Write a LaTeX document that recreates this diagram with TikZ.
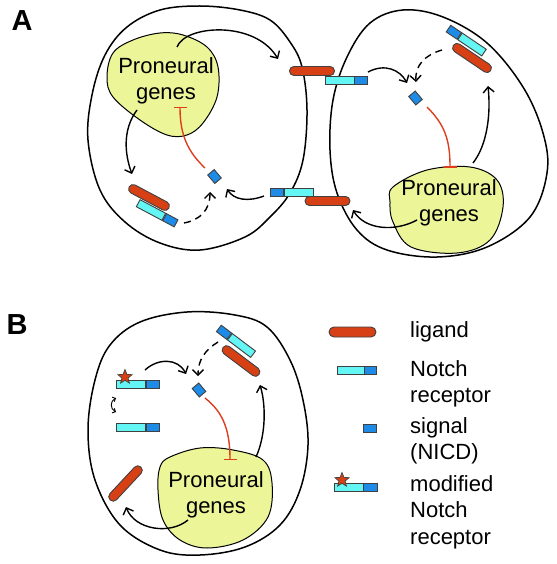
\documentclass[tikz,border=0pt]{standalone}
\usepackage{fontspec}
\setmainfont{Liberation Sans}
\usetikzlibrary{arrows.meta,shapes.geometric}
\definecolor{lig}{RGB}{214,64,20}
\definecolor{cyn}{RGB}{100,245,245}
\definecolor{blu}{RGB}{30,140,230}
\definecolor{blobc}{RGB}{236,245,152}
\definecolor{inh}{RGB}{222,62,30}
\begin{document}
\begin{tikzpicture}[x=1pt,y=-1pt,
  cell/.style={draw=black,line width=1.5pt},
  blobst/.style={draw=black,fill=blobc,line width=1pt},
  ligand/.style={draw=black!75,fill=lig,rounded corners=4.4pt,minimum width=45pt,minimum height=9pt,inner sep=0pt,line width=0.9pt},
  cyanbox/.style={draw=black!75,fill=cyn,minimum width=29pt,minimum height=8pt,inner sep=0pt,line width=0.9pt},
  bluebox/.style={draw=black!75,fill=blu,minimum width=13pt,minimum height=8pt,inner sep=0pt,line width=0.9pt},
  nicd/.style={draw=black!75,fill=blu,minimum width=11pt,minimum height=8.5pt,inner sep=0pt,line width=0.9pt},
  starst/.style={star,star points=5,star point ratio=2.3,draw=black!75,fill=lig,minimum size=15pt,inner sep=0pt,line width=0.7pt},
  arr/.style={draw=black,line width=1.4pt,-{Straight Barb[length=5.5pt,width=11pt]}},
  darr/.style={arr,dash pattern=on 7pt off 5pt},
  inhib/.style={draw=inh,line width=1.4pt,-{Bar[width=13pt,line width=1.5pt]}},
  txt/.style={font=\fontsize{22}{26.5}\selectfont,align=center,inner sep=0pt},
  ltxt/.style={font=\fontsize{22}{26.5}\selectfont,align=left,anchor=west,inner sep=0pt},
  panel/.style={font=\fontsize{29}{30}\selectfont\bfseries,inner sep=0pt}
]
\useasboundingbox (0,0) rectangle (556,564);

% ---------- Panel A ----------
\node[panel] (labA) at (22,21) {A};

% cells
\draw[cell] plot[smooth cycle,tension=0.6] coordinates {(127,27) (160,10) (200,6) (240,10) (270,20) (290,42) (302,67) (307,110) (303,160) (290,193) (270,217) (245,237) (200,250) (160,243) (125,222) (100,190) (88,140) (92,95) (105,55)};
\draw[cell] plot[smooth cycle,tension=0.6] coordinates {(370,23) (403,10) (443,17) (487,43) (523,87) (543,133) (547,173) (530,217) (487,247) (437,257) (387,250) (357,230) (337,193) (330,150) (333,100) (347,57)};

% proneural blobs
\filldraw[blobst] plot[smooth cycle,tension=0.6] coordinates {(133,40) (160,33) (183,35) (207,47) (218,67) (217,97) (203,123) (187,135) (167,135) (140,120) (113,97) (107,77) (113,53)};
\node[txt] (pgA1) at (166,81) {Proneural\\genes};
\filldraw[blobst] plot[smooth cycle,tension=0.6] coordinates {(393,187) (427,170) (470,167) (497,180) (503,207) (490,240) (457,253) (411,247) (393,222) (390,202)};
\node[txt] (pgA2) at (449,203) {Proneural\\genes};

% interface top: ligand (left cell), receptor (right cell)
\node[ligand] (ligT) at (312,71) {};
\node[cyanbox] (recTc) at (339.5,80) {};
\node[bluebox,anchor=west] (recTb) at (recTc.east) {};
% interface bottom: receptor (left cell), ligand (right cell)
\node[cyanbox] (recBc) at (299,192) {};
\node[bluebox,anchor=east] (recBb) at (recBc.west) {};
\node[ligand] (ligB) at (327.5,201) {};

% complex in left cell
\node[ligand,rotate=-28] (cxLl) at (149,197.5) {};
\node[cyanbox,rotate=-28] (cxLc) at (151,210) {};
\node[bluebox,rotate=-28,anchor=west] (cxLb) at (cxLc.east) {};
% complex in right cell
\node[ligand,rotate=-34] (cxRl) at (472,58) {};
\node[cyanbox,rotate=-34] (cxRc) at (472,44.5) {};
\node[bluebox,rotate=-34,anchor=east] (cxRb) at (cxRc.west) {};

% NICD
\node[nicd,rotate=-50] (nA1) at (214.5,176.5) {};
\node[nicd,rotate=-50] (nA2) at (415.5,98) {};

% coordinates for connectors
\coordinate (a1s) at (177,47);   \coordinate (a1e) at (278,59);
\coordinate (a2s) at (137,110);  \coordinate (a2e) at (132,174);
\coordinate (a3s) at (184,223);  \coordinate (a3e) at (210,192);
\coordinate (a4s) at (264,196);  \coordinate (a4e) at (227,189);
\coordinate (a5s) at (205,168);  \coordinate (a5e) at (180,107);
\coordinate (b1s) at (368,72);   \coordinate (b1e) at (407,83);
\coordinate (b2s) at (442,50);   \coordinate (b2e) at (416,82);
\coordinate (b3s) at (473,163);  \coordinate (b3e) at (488,86);
\coordinate (b4s) at (417,220);  \coordinate (b4e) at (353,210);
\coordinate (b5s) at (427,107);  \coordinate (b5e) at (450,168);

\draw[arr] (a1s) .. controls (185,25) and (255,20) .. (a1e);
\draw[arr] (a2s) .. controls (122,130) and (125,155) .. (a2e);
\draw[darr] (a3s) .. controls (200,220) and (210,210) .. (a3e);
\draw[arr] (a4s) .. controls (248,202) and (234,200) .. (a4e);
\draw[inhib] (a5s) .. controls (188,152) and (180,135) .. (a5e);

\draw[arr] (b1s) .. controls (385,63) and (400,70) .. (b1e);
\draw[darr] (b2s) .. controls (425,55) and (415,65) .. (b2e);
\draw[arr] (b3s) .. controls (487,145) and (491,115) .. (b3e);
\draw[arr] (b4s) .. controls (395,232) and (365,230) .. (b4e);
\draw[inhib] (b5s) .. controls (445,125) and (450,140) .. (b5e);

% ---------- Panel B ----------
\node[panel] (labB) at (17,325) {B};

\draw[cell] plot[smooth cycle,tension=0.6] coordinates {(140,322) (187,312) (235,315) (267,327) (290,360) (303,400) (308,445) (300,490) (280,525) (245,547) (200,555) (160,550) (120,525) (95,480) (88,430) (95,380) (110,345)};
\filldraw[blobst] plot[smooth cycle,tension=0.6] coordinates {(170,457) (200,448) (233,450) (263,460) (272,483) (268,517) (243,540) (207,548) (180,540) (163,520) (158,490) (160,467)};
\node[txt] (pgB) at (216,495) {Proneural\\genes};

% modified receptor + receptor
\node[cyanbox] (mrc) at (131,384) {};
\node[bluebox,anchor=west] (mrb) at (mrc.east) {};
\node[starst] (mrs) at (125,377) {};
\node[cyanbox] (rc) at (131,427) {};
\node[bluebox,anchor=west] (rb) at (rc.east) {};

% ligand alone
\node[ligand,rotate=47] (ligBB) at (125.5,483.5) {};

% complex top right
\node[ligand,rotate=-37] (cxBl) at (241,361) {};
\node[cyanbox,rotate=-37] (cxBc) at (241.5,345.5) {};
\node[bluebox,rotate=-37,anchor=east] (cxBb) at (cxBc.west) {};

\node[nicd,rotate=-50] (nB) at (199,390) {};

\coordinate (c1s) at (145,370);  \coordinate (c1e) at (186,374);
\coordinate (c2s) at (218,342);  \coordinate (c2e) at (198,376);
\coordinate (c3s) at (256,457);  \coordinate (c3e) at (260,385);
\coordinate (c4s) at (188,520);  \coordinate (c4e) at (126,507);
\coordinate (c5s) at (205,398);  \coordinate (c5e) at (230,460);
\coordinate (sw1) at (116,398);  \coordinate (sw2) at (116,412);

\draw[arr] (c1s) .. controls (158,358) and (178,358) .. (c1e);
\draw[darr] (c2s) .. controls (205,350) and (198,360) .. (c2e);
\draw[arr] (c3s) .. controls (266,435) and (266,405) .. (c3e);
\draw[arr] (c4s) .. controls (170,535) and (135,530) .. (c4e);
\draw[inhib] (c5s) .. controls (220,410) and (230,425) .. (c5e);
\draw[line width=0.9pt,{Straight Barb[length=2.5pt,width=5pt]}-{Straight Barb[length=2.5pt,width=5pt]}] (sw1) .. controls (110,401) and (110,409) .. (sw2);

% ---------- Legend ----------
\node[ligand,minimum width=47pt,minimum height=10pt,rounded corners=5pt] (lgL) at (352.5,332) {};
\node[ltxt] (lgLt) at (410,332) {ligand};
\node[cyanbox,minimum width=27pt] (lgRc) at (350.5,370) {};
\node[bluebox,minimum width=12pt,anchor=west] (lgRb) at (lgRc.east) {};
\node[ltxt] (lgRt) at (410,384) {Notch\\receptor};
\node[nicd,minimum width=13pt,minimum height=8pt] (lgS) at (369.5,428) {};
\node[ltxt] (lgSt) at (410,441) {signal\\(NICD)};
\node[cyanbox] (lgMc) at (348.5,487.5) {};
\node[bluebox,minimum width=14pt,anchor=west] (lgMb) at (lgMc.east) {};
\node[starst] (lgMs) at (342,480) {};
\node[ltxt] (lgMt) at (410,512) {modified\\Notch\\receptor};
\end{tikzpicture}
\end{document}
